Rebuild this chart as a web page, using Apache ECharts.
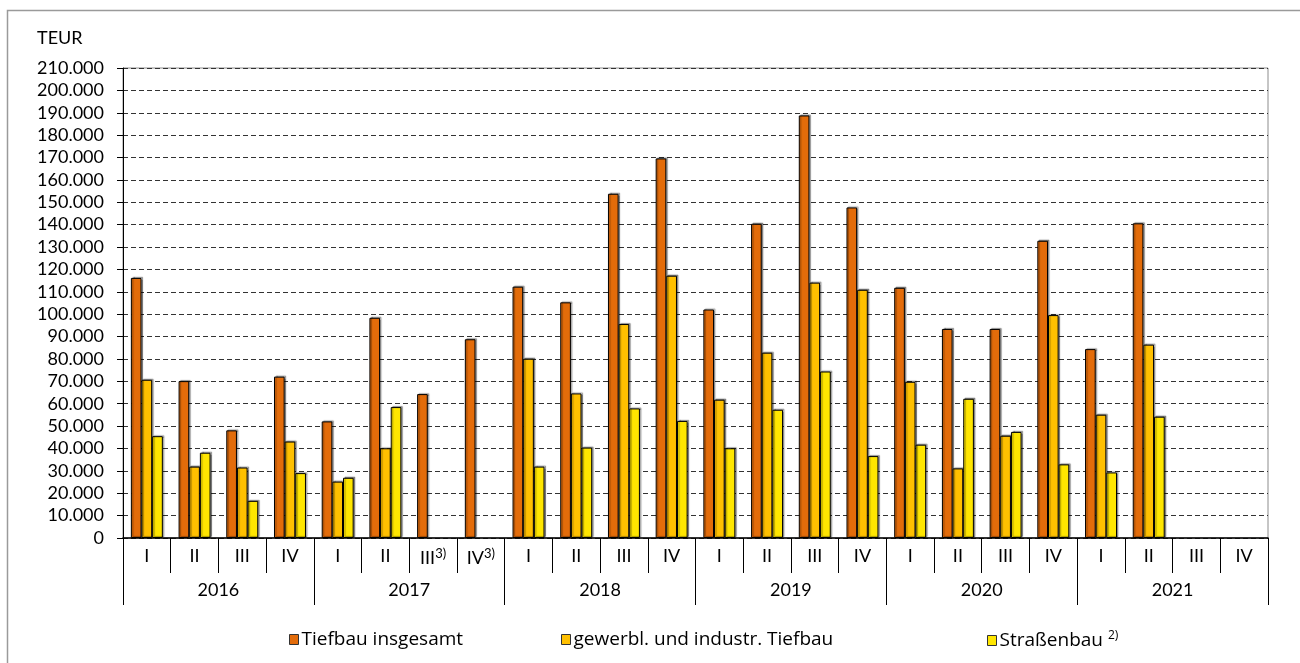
<!DOCTYPE html>
<html>
<head>
<meta charset="utf-8">
<script src="https://cdn.jsdelivr.net/npm/echarts@6/dist/echarts.min.js"></script>
<style>
html,body{margin:0;padding:0;background:#fff;}
#chart{width:1300px;height:663px;}
</style>
</head>
<body>
<div id="chart"></div>
<script>
// ---- data ----
const quarters = ['I','II','III','IV','I','II','III3)','IV3)','I','II','III','IV','I','II','III','IV','I','II','III','IV','I','II','III','IV'];
const years = ['2016','2017','2018','2019','2020','2021'];
const seriesNames = ['Tiefbau insgesamt','gewerbl. und industr. Tiefbau','Straßenbau'];
const tiefbauInsgesamt = [116200,70100,48100,72100, 52100,98400,64300,88800, 112300,105300,153800,169600, 102100,140400,188800,147700, 111800,93400,93400,132800, 84400,140600,null,null];
const gewerblTiefbau = [70700,31900,31500,43100, 25200,40100,null,null, 80100,64600,95600,117200, 61800,82800,114100,110900, 69800,31100,45700,99600, 55100,86400,null,null];
const strassenbau = [45500,38100,16600,29000, 26900,58500,null,null, 31900,40400,57900,52300, 40100,57300,74400,36600, 41700,62200,47400,32900, 29300,54200,null,null];
const yMin = 0, yMax = 210000, yStep = 10000;

const FONT = 'Lato';
const LEGEND_FONT = 'Open Sans';
const colors = ['#E36C0A','#FFC000','#FFE600'];

function fmtThousands(v){
  return String(v).replace(/\B(?=(\d{3})+(?!\d))/g,'.');
}
function quarterLabel(v){
  const m = v.match(/^(I{1,3}|IV)(\d\))$/);
  if (m) return m[1] + '{sup|' + m[2] + '}';
  return v;
}

const chart = echarts.init(document.getElementById('chart'), null, {renderer:'canvas'});

function barSeries(name, data, color){
  return {
    name: name, type: 'bar', data: data,
    xAxisIndex: 0, yAxisIndex: 0,
    barGap: '0%', barCategoryGap: '33%',
    itemStyle: {color: color, borderColor: '#000', borderWidth: 1,
      shadowColor: 'rgba(0,0,0,0.35)', shadowOffsetX: 1.5, shadowOffsetY: -1, shadowBlur: 1},
    emphasis: {disabled: true},
    animation: false
  };
}

const legendBase = {
  orient: 'horizontal', top: 625, itemWidth: 9, itemHeight: 10, itemGap: 0,
  icon: 'rect',
  textStyle: {fontFamily: LEGEND_FONT, fontSize: 19, color: '#000', padding: [0,0,0,-2],
    rich: {sup: {fontFamily: LEGEND_FONT, fontSize: 12, color: '#000', padding: [0,0,9,0]}}},
  itemStyle: {borderColor: '#333', borderWidth: 1},
  selectedMode: false
};

chart.setOption({
  animation: false,
  textStyle: {fontFamily: FONT},
  grid: {left: 123, right: 32, top: 68, bottom: 125, show: true, borderColor: '#8c8c8c', borderWidth: 1},
  graphic: [
    {type: 'rect', silent: true, z: -10, shape: {x: 7.5, y: 10.5, width: 1400, height: 700},
     style: {fill: 'none', stroke: '#9a9a9a', lineWidth: 1.5}},
    {type: 'text', left: 37, top: 29, style: {text: 'TEUR', font: '18px ' + FONT, fill: '#000'}}
  ],
  legend: [
    Object.assign({}, legendBase, {left: 284, data: [seriesNames[0]]}),
    Object.assign({}, legendBase, {left: 556, data: [seriesNames[1]]}),
    Object.assign({}, legendBase, {left: 982, data: [seriesNames[2]],
      formatter: function(n){ return n + ' {sup|2)}'; }})
  ],
  xAxis: [
    {
      type: 'category', data: quarters, position: 'bottom',
      boundaryGap: true,
      axisLine: {show: true, lineStyle: {color: '#000', width: 1.5}},
      axisTick: {show: true, interval: 0, length: 35, lineStyle: {color: '#000', width: 1}},
      axisLabel: {interval: 0, margin: 9, color: '#000', fontFamily: FONT, fontSize: 18,
        formatter: quarterLabel,
        rich: {sup: {fontFamily: FONT, fontSize: 13, color: '#000', padding: [0,0,9,0]}}},
      splitLine: {show: false}
    },
    {
      type: 'category', data: years, position: 'bottom',
      boundaryGap: true,
      axisLine: {show: false},
      axisTick: {show: true, interval: 0, length: 67, lineStyle: {color: '#000', width: 1}},
      axisLabel: {interval: 0, margin: 43, color: '#000', fontFamily: FONT, fontSize: 18},
      splitLine: {show: false}
    }
  ],
  yAxis: {
    type: 'value', min: yMin, max: yMax, interval: yStep,
    axisLine: {show: true, lineStyle: {color: '#000', width: 1}},
    axisTick: {show: true, length: 6, lineStyle: {color: '#000'}},
    axisLabel: {margin: 19, color: '#000', fontFamily: FONT, fontSize: 18, formatter: fmtThousands},
    splitLine: {show: true, lineStyle: {color: '#333', type: [5,3], width: 1}}
  },
  series: [
    barSeries(seriesNames[0], tiefbauInsgesamt, colors[0]),
    barSeries(seriesNames[1], gewerblTiefbau, colors[1]),
    barSeries(seriesNames[2], strassenbau, colors[2])
  ]
});
</script>
</body>
</html>
